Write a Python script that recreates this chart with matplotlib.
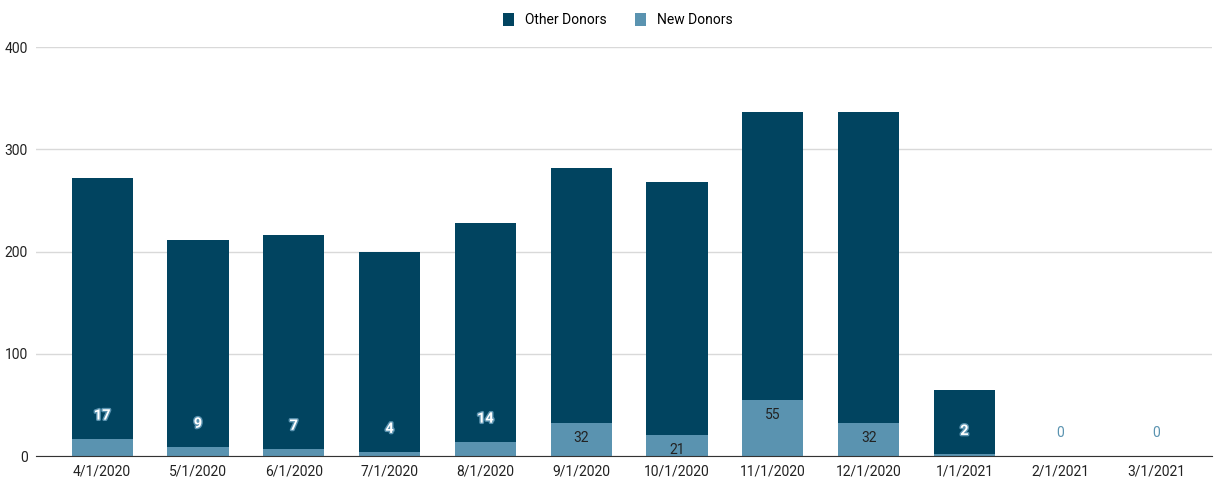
import matplotlib
matplotlib.use("Agg")
import matplotlib.pyplot as plt
import matplotlib.patheffects as pe
import numpy as np

plt.rcParams['font.family'] = ['Roboto', 'DejaVu Sans']

months = ["4/1/2020", "5/1/2020", "6/1/2020", "7/1/2020", "8/1/2020", "9/1/2020",
          "10/1/2020", "11/1/2020", "12/1/2020", "1/1/2021", "2/1/2021", "3/1/2021"]
new_donors = [17, 9, 7, 4, 14, 32, 21, 55, 32, 2, 0, 0]
other_donors = [255, 202, 209, 196, 214, 250, 247, 281, 304, 63, 0, 0]

DARK = "#014460"
LIGHT = "#5a93b0"

fig = plt.figure(figsize=(12.14, 4.8), dpi=100)
ax = fig.add_axes([0.0297, 0.05, 0.9683, 0.852])

x = np.arange(len(months))
ax.bar(x, new_donors, width=0.64, color=LIGHT, label="New Donors", zorder=2)
ax.bar(x, other_donors, width=0.64, bottom=new_donors, color=DARK, label="Other Donors", zorder=2)

# data labels for new donors
for xi, v, o in zip(x, new_donors, other_donors):
    if v >= 20:
        ax.annotate(str(v), (xi, v), xytext=(0, -15), textcoords="offset pixels",
                    ha="center", va="center", fontsize=10, color="#222222", zorder=3)
    elif o > 0:
        ax.annotate(str(v), (xi, v), xytext=(0, 23), textcoords="offset pixels",
                    ha="center", va="center", fontsize=10.5, color="white", fontweight="bold",
                    path_effects=[pe.withStroke(linewidth=2, foreground=LIGHT)], zorder=3)
    else:
        ax.annotate(str(v), (xi, v), xytext=(0, 23), textcoords="offset pixels",
                    ha="center", va="center", fontsize=10, color=LIGHT, zorder=3)

ax.set_xlim(-0.69, 11.58)
ax.set_ylim(0, 400)
ax.set_yticks([0, 100, 200, 300, 400])
ax.set_xticks(x)
ax.set_xticklabels(months)
ax.tick_params(axis="both", length=0, labelsize=10, colors="#222222")
ax.tick_params(axis="x", pad=6)
ax.tick_params(axis="y", pad=6)
ax.grid(axis="y", color="#d9d9d9", linewidth=1, zorder=0)
for s in ["top", "right", "left"]:
    ax.spines[s].set_visible(False)
ax.spines["bottom"].set_color("#333333")
ax.spines["bottom"].set_zorder(4)

handles, labels = ax.get_legend_handles_labels()
fig.legend(handles[::-1], labels[::-1], loc="upper center", bbox_to_anchor=(0.509, 1.0),
           ncol=2, frameon=False, fontsize=10, handlelength=0.8, handleheight=1.1,
           handletextpad=0.8, columnspacing=2.0)

fig.savefig("out.png", dpi=100)
